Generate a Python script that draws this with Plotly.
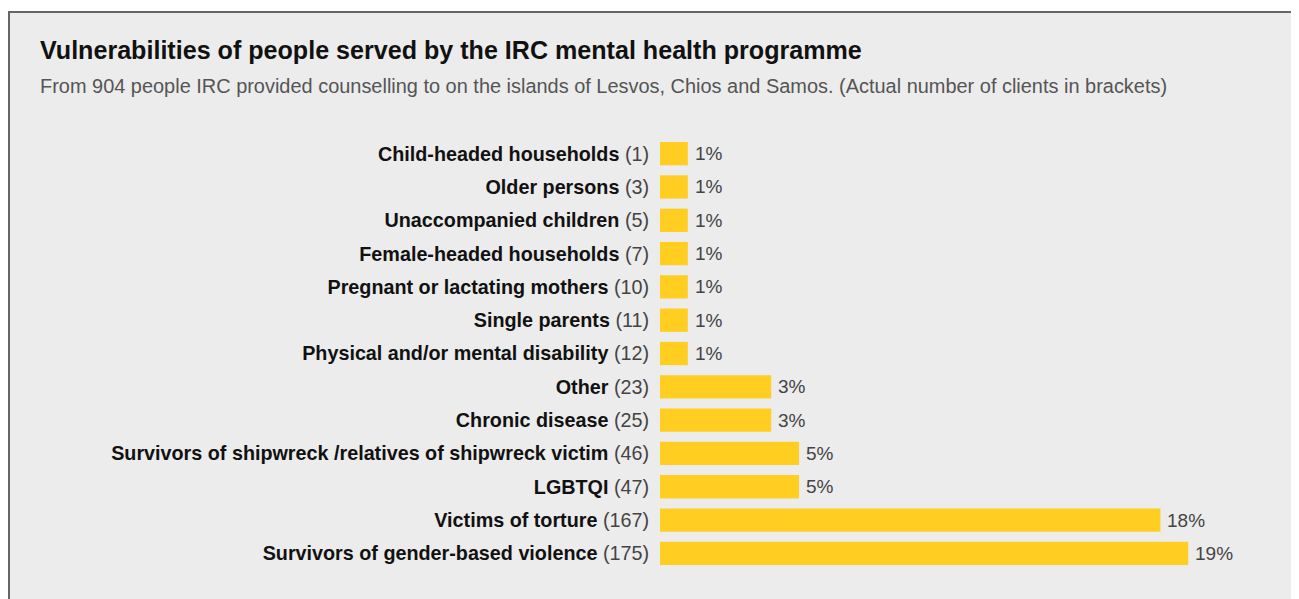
import plotly.graph_objects as go

categories = [
    "Child-headed households",
    "Older persons",
    "Unaccompanied children",
    "Female-headed households",
    "Pregnant or lactating mothers",
    "Single parents",
    "Physical and/or mental disability",
    "Other",
    "Chronic disease",
    "Survivors of shipwreck /relatives of shipwreck victim",
    "LGBTQI",
    "Victims of torture",
    "Survivors of gender-based violence",
]
client_counts = [1, 3, 5, 7, 10, 11, 12, 23, 25, 46, 47, 167, 175]
bar_lengths = [1, 1, 1, 1, 1, 1, 1, 4, 4, 5, 5, 18, 19]
pct_labels = ["1%", "1%", "1%", "1%", "1%", "1%", "1%", "3%", "3%", "5%", "5%", "18%", "19%"]

title_text = "Vulnerabilities of people served by the IRC mental health programme"
subtitle_text = ("From 904 people IRC provided counselling to on the islands of Lesvos, "
                 "Chios and Samos. (Actual number of clients in brackets)")

FONT = "Liberation Sans, Arial, sans-serif"
# page body has an 8px margin; figure coordinates are relative to it
W, H = 1291, 591
L, R, T, B = 652, 83, 129, 29
PW, PH = W - L - R, H - T - B

tick_text = [f"<b>{c}</b> <span style='color:#444444'>({n})</span>"
             for c, n in zip(categories, client_counts)]

fig = go.Figure()
fig.add_trace(go.Bar(
    x=bar_lengths,
    y=categories,
    orientation="h",
    marker=dict(color="#FFCE21", line=dict(width=0)),
    hoverinfo="skip",
))

annotations = []
for c, v, p in zip(categories, bar_lengths, pct_labels):
    annotations.append(dict(
        x=v, y=c, xref="x", yref="y", text=p, showarrow=False,
        xanchor="left", yanchor="middle", xshift=5,
        font=dict(family=FONT, size=19, color="#444444"),
    ))

def px_to_paper_x(px):
    return (px - L) / PW

def px_to_paper_y(py):
    return (H - B - py) / PH

annotations.append(dict(
    x=px_to_paper_x(30), y=px_to_paper_y(42), xref="paper", yref="paper",
    text=f"<b>{title_text}</b>", showarrow=False, xanchor="left", yanchor="middle",
    font=dict(family=FONT, size=25.1, color="#111111"),
))
annotations.append(dict(
    x=px_to_paper_x(30), y=px_to_paper_y(78), xref="paper", yref="paper",
    text=subtitle_text, showarrow=False, xanchor="left", yanchor="middle",
    font=dict(family=FONT, size=19.95, color="#555555"),
))

fig.update_layout(
    width=W, height=H,
    margin=dict(l=L, r=R, t=T, b=B, pad=0),
    paper_bgcolor="white",
    plot_bgcolor="#ECECEC",
    showlegend=False,
    bargap=0.3,
    annotations=annotations,
    shapes=[dict(
        type="rect", xref="paper", yref="paper", layer="below",
        x0=px_to_paper_x(1), x1=px_to_paper_x(1320),
        y0=px_to_paper_y(620), y1=px_to_paper_y(4),
        fillcolor="#ECECEC", line=dict(color="#666666", width=2),
    )],
    xaxis=dict(range=[0, 20], visible=False, fixedrange=True),
    yaxis=dict(
        categoryorder="array", categoryarray=categories,
        tickmode="array", tickvals=categories, ticktext=tick_text,
        autorange="reversed", showgrid=False, zeroline=False, showline=False,
        ticks="outside", ticklen=6, tickcolor="rgba(0,0,0,0)",
        tickfont=dict(family=FONT, size=19.75, color="#111111"),
    ),
)

fig.write_html(
    "out.html",
    post_script="document.documentElement.style.overflow='hidden';",
)
